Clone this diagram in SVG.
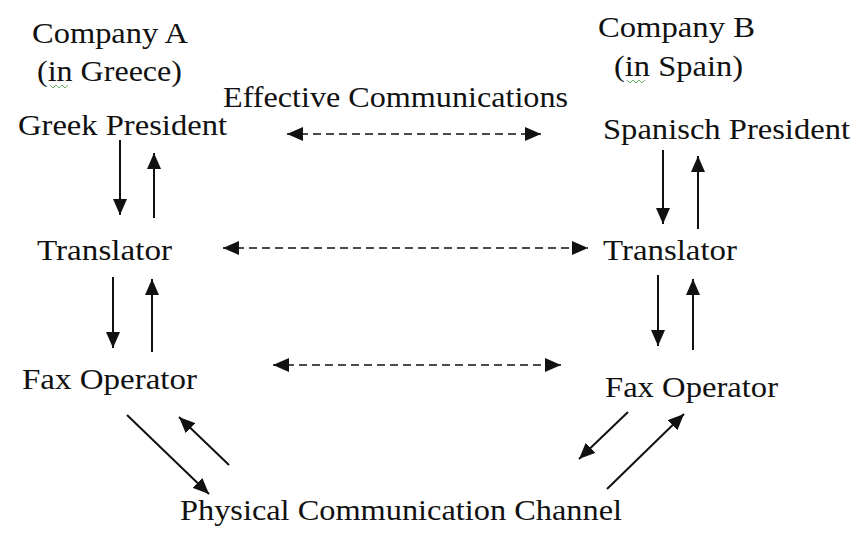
<svg xmlns="http://www.w3.org/2000/svg" width="857" height="541" viewBox="0 0 857 541">
<style>
text{font-family:"Liberation Serif","Times New Roman",serif;font-size:29.5px;fill:#111}
.s{stroke:#111;stroke-width:2;fill:none;marker-end:url(#ah)}
.d{stroke:#111;stroke-width:1.6;fill:none;stroke-dasharray:8 5;marker-start:url(#ah2);marker-end:url(#ah2)}
.sq{stroke:#6cb86c;stroke-width:1;fill:none}
</style>
<defs>
<marker id="ah" markerUnits="userSpaceOnUse" markerWidth="16" markerHeight="14" refX="16" refY="7" orient="auto"><path d="M0,0 L16,7 L0,14 z" fill="#111"/></marker>
<marker id="ah2" markerUnits="userSpaceOnUse" markerWidth="16" markerHeight="14" refX="16" refY="7" orient="auto-start-reverse"><path d="M0,0 L16,7 L0,14 z" fill="#111"/></marker>
</defs>
<rect width="857" height="541" fill="#fff"/>
<g id="companyA">
<text x="32" y="43" textLength="156" lengthAdjust="spacingAndGlyphs">Company A</text>
<text x="37" y="81" textLength="145" lengthAdjust="spacingAndGlyphs">(in Greece)</text>
<path class="sq" d="M50,85 l3,3 l3,-3 l3,3 l3,-3 l3,3 l3,-3"/>
</g>
<g id="companyB">
<text x="598" y="37" textLength="157" lengthAdjust="spacingAndGlyphs">Company B</text>
<text x="614" y="76" textLength="129" lengthAdjust="spacingAndGlyphs">(in Spain)</text>
<path class="sq" d="M627,80 l3,3 l3,-3 l3,3 l3,-3 l3,3 l3,-3"/>
</g>
<g id="effective">
<text x="223" y="107" textLength="345" lengthAdjust="spacingAndGlyphs">Effective Communications</text>
</g>
<g id="greekPresident">
<text x="18" y="135" textLength="209" lengthAdjust="spacingAndGlyphs">Greek President</text>
</g>
<g id="spanishPresident">
<text x="603" y="139" textLength="247" lengthAdjust="spacingAndGlyphs">Spanisch President</text>
</g>
<g id="translatorA">
<text x="37" y="260" textLength="135" lengthAdjust="spacingAndGlyphs">Translator</text>
</g>
<g id="translatorB">
<text x="603" y="260" textLength="134" lengthAdjust="spacingAndGlyphs">Translator</text>
</g>
<g id="faxA">
<text x="22" y="389" textLength="175" lengthAdjust="spacingAndGlyphs">Fax Operator</text>
</g>
<g id="faxB">
<text x="605" y="397" textLength="173" lengthAdjust="spacingAndGlyphs">Fax Operator</text>
</g>
<g id="channel">
<text x="180" y="520" textLength="442" lengthAdjust="spacingAndGlyphs">Physical Communication Channel</text>
</g>
<g id="connectors">
<line class="d" x1="287" y1="134" x2="541" y2="134"/>
<line class="d" x1="223" y1="248" x2="588" y2="248"/>
<line class="d" x1="273" y1="365" x2="561" y2="365"/>
<line class="s" x1="120" y1="140" x2="120" y2="215"/>
<line class="s" x1="154" y1="218" x2="154" y2="153"/>
<line class="s" x1="113" y1="277" x2="113" y2="348"/>
<line class="s" x1="152" y1="352" x2="152" y2="279"/>
<line class="s" x1="663" y1="150" x2="663" y2="224"/>
<line class="s" x1="698" y1="229" x2="698" y2="156"/>
<line class="s" x1="658" y1="275" x2="658" y2="346"/>
<line class="s" x1="693" y1="350" x2="693" y2="279"/>
<line class="s" x1="127" y1="415" x2="209" y2="494"/>
<line class="s" x1="229" y1="465" x2="179" y2="417"/>
<line class="s" x1="628" y1="412" x2="579" y2="459"/>
<line class="s" x1="607" y1="489" x2="684" y2="414"/>
</g>
</svg>
